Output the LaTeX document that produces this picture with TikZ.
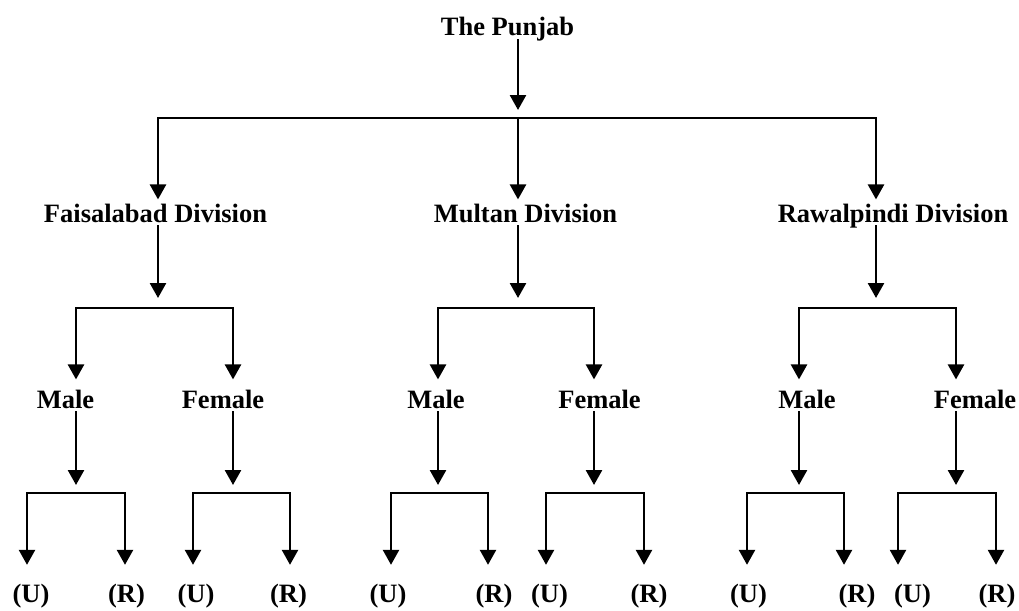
\documentclass[tikz,border=0pt]{standalone}
\usepackage{fontspec}
\setmainfont{Liberation Serif}
\usetikzlibrary{arrows.meta}

\tikzset{
    lbl/.style={font=\fontsize{26.5pt}{30pt}\selectfont\bfseries, inner sep=0pt, anchor=base, text depth=0pt},
    arr/.style={-{Triangle[width=16pt,length=15pt]}, line width=2.6pt},
    stem/.style={arr, shorten <=3pt},
    drop/.style={arr, shorten >=#1},
    fork/.style={{Triangle[width=16pt,length=15pt]}-{Triangle[width=16pt,length=15pt]}, line width=2.6pt, shorten <=#1, shorten >=#1}
}

\begin{document}
\begin{tikzpicture}[x=1pt, y=-1pt]
    \useasboundingbox (0,0) rectangle (1019,610);

    % Province and its fork
    \node[lbl] (pj) at (507.5,36) {The Punjab};
    \coordinate (pj-b) at (518,118);

    % Divisions
    \node[lbl] (fsd) at (155.5,222) {Faisalabad Division};
    \node[lbl] (mul) at (525.5,222) {Multan Division};
    \node[lbl] (rwp) at (893,222) {Rawalpindi Division};
    \coordinate (fsd-b) at (158,308);
    \coordinate (mul-b) at (518,308);
    \coordinate (rwp-b) at (876,308);

    % Gender per division
    \node[lbl] (fsd-m) at (65.5,408) {Male};
    \node[lbl] (fsd-f) at (223,408) {Female};
    \node[lbl] (mul-m) at (436,408) {Male};
    \node[lbl] (mul-f) at (599.5,408) {Female};
    \node[lbl] (rwp-m) at (807,408) {Male};
    \node[lbl] (rwp-f) at (975,408) {Female};
    \coordinate (fsd-m-b) at (76,493);
    \coordinate (fsd-f-b) at (233,493);
    \coordinate (mul-m-b) at (438,493);
    \coordinate (mul-f-b) at (594,493);
    \coordinate (rwp-m-b) at (799,493);
    \coordinate (rwp-f-b) at (956,493);

    % Urban / rural
    \node[lbl] (fsd-m-u) at (31,602) {(U)};
    \node[lbl] (fsd-m-r) at (126.5,602) {(R)};
    \node[lbl] (fsd-f-u) at (196,602) {(U)};
    \node[lbl] (fsd-f-r) at (288.5,602) {(R)};
    \node[lbl] (mul-m-u) at (388,602) {(U)};
    \node[lbl] (mul-m-r) at (494,602) {(R)};
    \node[lbl] (mul-f-u) at (549.5,602) {(U)};
    \node[lbl] (mul-f-r) at (649,602) {(R)};
    \node[lbl] (rwp-m-u) at (748.5,602) {(U)};
    \node[lbl] (rwp-m-r) at (857,602) {(R)};
    \node[lbl] (rwp-f-u) at (912.5,602) {(U)};
    \node[lbl] (rwp-f-r) at (997,602) {(R)};

    % Province -> divisions
    \draw[stem] (pj.south -| pj-b) -- ([yshift=8pt]pj-b);
    \draw[fork=4pt] (fsd-b |- fsd.north) |- (pj-b) -| (rwp-b |- rwp.north);
    \draw[drop=4pt] (pj-b) -- (pj-b |- mul.north);

    % Divisions -> gender
    \draw[stem] (fsd.south -| fsd-b) -- ([yshift=10pt]fsd-b);
    \draw[stem] (mul.south -| mul-b) -- ([yshift=10pt]mul-b);
    \draw[stem] (rwp.south -| rwp-b) -- ([yshift=10pt]rwp-b);
    \draw[fork=10pt] (fsd-m-b |- fsd-m.north) |- (fsd-b) -| (fsd-f-b |- fsd-f.north);
    \draw[fork=10pt] (mul-m-b |- mul-m.north) |- (mul-b) -| (mul-f-b |- mul-f.north);
    \draw[fork=10pt] (rwp-m-b |- rwp-m.north) |- (rwp-b) -| (rwp-f-b |- rwp-f.north);

    % Gender -> urban / rural
    \draw[stem] (fsd-m.south -| fsd-m-b) -- ([yshift=8pt]fsd-m-b);
    \draw[stem] (fsd-f.south -| fsd-f-b) -- ([yshift=8pt]fsd-f-b);
    \draw[stem] (mul-m.south -| mul-m-b) -- ([yshift=8pt]mul-m-b);
    \draw[stem] (mul-f.south -| mul-f-b) -- ([yshift=8pt]mul-f-b);
    \draw[stem] (rwp-m.south -| rwp-m-b) -- ([yshift=8pt]rwp-m-b);
    \draw[stem] (rwp-f.south -| rwp-f-b) -- ([yshift=8pt]rwp-f-b);
    \draw[fork=18.6pt] ([xshift=-4pt]fsd-m-u.north) |- (fsd-m-b) -| ([xshift=-1.5pt]fsd-m-r.north);
    \draw[fork=18.6pt] ([xshift=-3pt]fsd-f-u.north) |- (fsd-f-b) -| ([xshift=1.5pt]fsd-f-r.north);
    \draw[fork=18.6pt] ([xshift=3pt]mul-m-u.north) |- (mul-m-b) -| ([xshift=-6pt]mul-m-r.north);
    \draw[fork=18.6pt] ([xshift=-3.5pt]mul-f-u.north) |- (mul-f-b) -| ([xshift=-5pt]mul-f-r.north);
    \draw[fork=18.6pt] ([xshift=-1.5pt]rwp-m-u.north) |- (rwp-m-b) -| ([xshift=-13pt]rwp-m-r.north);
    \draw[fork=18.6pt] ([xshift=-14.5pt]rwp-f-u.north) |- (rwp-f-b) -| ([xshift=-1pt]rwp-f-r.north);
\end{tikzpicture}
\end{document}
